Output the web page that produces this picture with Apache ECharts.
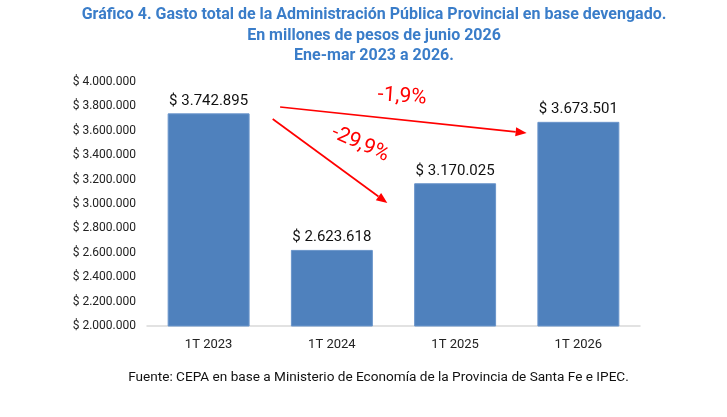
<!DOCTYPE html>
<html>
<head>
<meta charset="utf-8">
<script src="https://cdn.jsdelivr.net/npm/echarts@6/dist/echarts.min.js"></script>
<style>
  html, body { margin: 0; padding: 0; background: #fff; }
  #main { width: 727px; height: 417px; }
</style>
</head>
<body>
<div id="main"></div>
<script>
var categories = ['1T 2023', '1T 2024', '1T 2025', '1T 2026'];
var gasto = [3742895, 2623618, 3170025, 3673501];
var yMin = 2000000, yMax = 4000000, yStep = 200000;
// variaciones contra 1T 2023 (posiciones en [categoría, valor])
var variaciones = [
  { texto: '-1,9%', desde: [0.58, 3795000], hasta: [2.58, 3582000], etiqueta: [1.57, 3880000], giro: -0.07 },
  { texto: '-29,9%', desde: [0.52, 3697000], hasta: [1.45, 3008000], etiqueta: [1.23, 3490000], giro: -0.42 }
];

function miles(v) {
  return '$ ' + String(Math.round(v)).replace(/\B(?=(\d{3})+(?!\d))/g, '.');
}

var chart = echarts.init(document.getElementById('main'));
var option = {
  textStyle: { fontFamily: 'Roboto' },
  grid: { left: 147, right: 87, top: 82, bottom: 91 },
  xAxis: {
    type: 'category',
    data: categories,
    axisLine: { lineStyle: { color: '#D9D9D9', width: 1.5 } },
    axisTick: { show: false },
    axisLabel: { color: '#222', fontSize: 13, margin: 12 }
  },
  yAxis: {
    type: 'value',
    min: yMin, max: yMax, interval: yStep,
    splitLine: { show: false },
    axisLine: { show: false },
    axisTick: { show: false },
    axisLabel: { color: '#222', fontSize: 12, margin: 11, formatter: miles }
  },
  series: [{
    type: 'bar',
    data: gasto,
    barWidth: '66.5%',
    itemStyle: { color: '#4F81BD', borderColor: '#6A95CB', borderWidth: 1 },
    label: {
      show: true, position: 'top', distance: 5,
      color: '#111', fontSize: 15, formatter: function (p) { return miles(p.value); }
    }
  }]
};
chart.setOption(option);

function aPixel(p) {
  var i = Math.floor(p[0]), f = p[0] - i;
  var a = chart.convertToPixel({ seriesIndex: 0 }, [i, p[1]]);
  var b = chart.convertToPixel({ seriesIndex: 0 }, [i + 1, p[1]]);
  return [a[0] + (b[0] - a[0]) * f, a[1]];
}

var graficos = [{
  type: 'text',
  x: 374, y: 5,
  style: {
    text: 'Gráfico 4. Gasto total de la Administración Pública Provincial en base devengado.\nEn millones de pesos de junio 2026\nEne-mar 2023 a 2026.',
    fill: '#3A7DC9', fontSize: 16, fontWeight: 'bold', lineHeight: 20.5,
    fontFamily: 'Roboto', align: 'center', verticalAlign: 'top'
  }
}];
variaciones.forEach(function (v) {
  var s = aPixel(v.desde), e = aPixel(v.hasta), t = aPixel(v.etiqueta);
  var ang = Math.atan2(e[1] - s[1], e[0] - s[0]);
  var L = 11, W = 4.5;
  var bx = e[0] - L * Math.cos(ang), by = e[1] - L * Math.sin(ang);
  graficos.push({
    type: 'line',
    shape: { x1: s[0], y1: s[1], x2: bx, y2: by },
    style: { stroke: '#FF0000', lineWidth: 1.7 }
  });
  graficos.push({
    type: 'polygon',
    shape: { points: [
      [e[0], e[1]],
      [bx - W * Math.sin(ang), by + W * Math.cos(ang)],
      [bx + W * Math.sin(ang), by - W * Math.cos(ang)]
    ] },
    style: { fill: '#FF0000' }
  });
  graficos.push({
    type: 'text',
    x: t[0], y: t[1], rotation: v.giro,
    style: { text: v.texto, fill: '#FF0000', fontSize: 21, fontFamily: 'Roboto', align: 'center', verticalAlign: 'middle' }
  });
});
graficos.push({
  type: 'text',
  x: 378.5, y: 371,
  style: { text: 'Fuente: CEPA en base a Ministerio de Economía de la Provincia de Santa Fe e IPEC.', fill: '#111', fontSize: 13.6, fontFamily: 'Roboto', align: 'center', verticalAlign: 'top' }
});
chart.setOption({ graphic: graficos });
</script>
</body>
</html>
